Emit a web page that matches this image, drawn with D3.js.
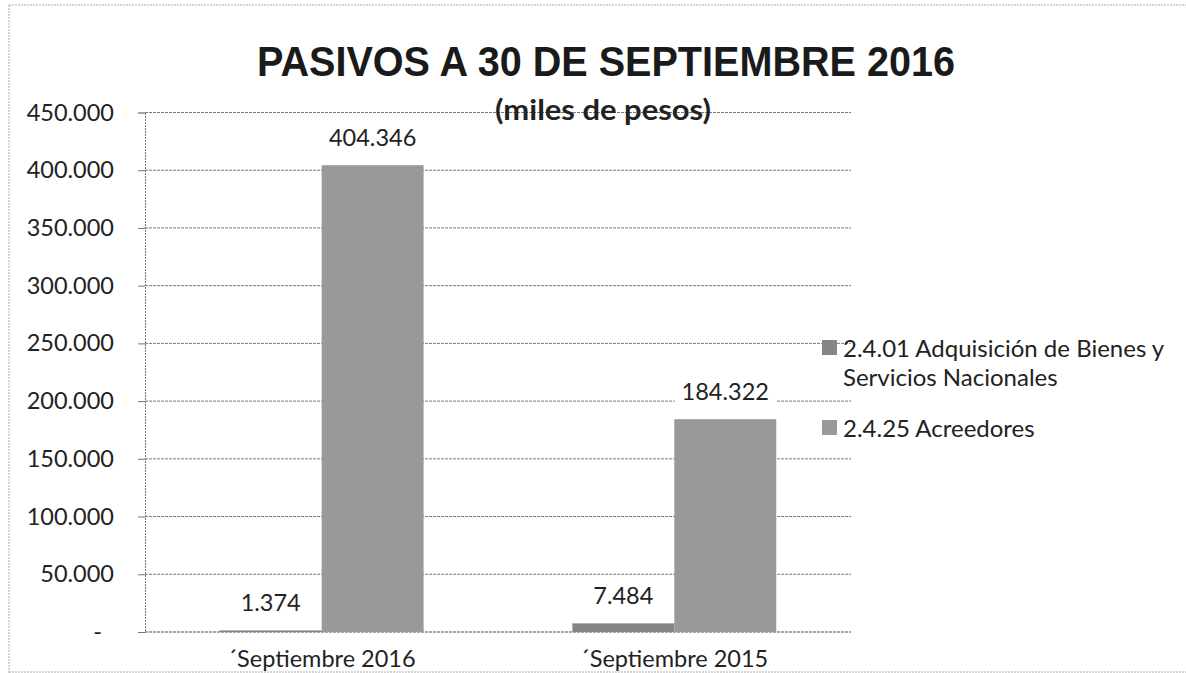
<!DOCTYPE html>
<html><head><meta charset="utf-8">
<script src="https://cdn.jsdelivr.net/npm/d3@7"></script>
<style>body{margin:0;background:#fff}svg{display:block}</style>
</head><body>
<svg id="c" width="1186" height="673"></svg>
<script>
const categories = ["´Septiembre 2016", "´Septiembre 2015"];
const seriesNames = ["2.4.01 Adquisición de Bienes y Servicios Nacionales", "2.4.25 Acreedores"];
const adquisicion = [1374, 7484];
const acreedores = [404346, 184322];
const yTicks = [0, 50000, 100000, 150000, 200000, 250000, 300000, 350000, 400000, 450000];
const colors = ["#858585", "#999999"];

const svg = d3.select("#c");
const font = "Lato, 'Open Sans', sans-serif";
const fmt = v => v === 0 ? "-" : d3.format(",")(v).replace(/,/g, ".");

// outer frame
svg.append("line").attr("x1",9).attr("x2",1186).attr("y1",5).attr("y2",5).attr("stroke","#aaa").attr("stroke-dasharray","2,1");
svg.append("line").attr("x1",9).attr("x2",9).attr("y1",5).attr("y2",673).attr("stroke","#aaa").attr("stroke-dasharray","2,1");
svg.append("line").attr("x1",9).attr("x2",1186).attr("y1",672).attr("y2",672).attr("stroke","#aaa").attr("stroke-dasharray","2,1");

const pL = 145, pR = 851, pT = 112.5, pB = 632;
const y = d3.scaleLinear().domain([0, 450000]).range([pB, pT]);
const x0 = d3.scaleBand().domain(categories).range([pL, pR]).paddingInner(0.422).paddingOuter(0.212);
const x1 = d3.scaleBand().domain([0,1]).range([0, x0.bandwidth()]);

// gridlines
svg.append("g").selectAll("line").data(yTicks.filter(d=>d>0)).join("line")
  .attr("x1", pL).attr("x2", pR).attr("y1", d=>y(d)).attr("y2", d=>y(d))
  .attr("stroke", "#7a7a7a").attr("stroke-width", 1).attr("stroke-dasharray","3,1");

// y axis
const yAxis = d3.axisLeft(y).tickValues(yTicks).tickSize(7).tickFormat(fmt);
const ga = svg.append("g").attr("transform", `translate(${pL},0)`).call(yAxis);
ga.select(".domain").attr("stroke","#777").attr("stroke-dasharray","2,1");
ga.selectAll(".tick line").attr("stroke","#777");
ga.selectAll(".tick text").attr("font-family", font).attr("font-size", 23.5).attr("fill","#222").attr("x", -31);
ga.selectAll(".tick text").filter(d=>d===0).attr("x", -43);

// baseline
svg.append("line").attr("x1", pL).attr("x2", pR).attr("y1", pB).attr("y2", pB).attr("stroke","#888").attr("stroke-width",1.5).attr("stroke-dasharray","3,1");

// bars
const series = [adquisicion, acreedores];
const g = svg.append("g");
series.forEach((vals, si) => {
  g.selectAll(null).data(vals).join("rect")
    .attr("x", (d,i) => x0(categories[i]) + x1(si))
    .attr("width", x1.bandwidth())
    .attr("y", d => y(d))
    .attr("height", d => pB - y(d))
    .attr("fill", colors[si]);
});

// data labels
series.forEach((vals, si) => {
  vals.forEach((v, i) => {
    const cx = x0(categories[i]) + x1(si) + x1.bandwidth()/2;
    const ty = y(v) - 19;
    const t = svg.append("text").attr("x", cx).attr("y", ty).attr("text-anchor","middle")
      .attr("font-family", font).attr("font-size", 23.5).attr("fill","#222").text(fmt(v));
    const bb = t.node().getBBox();
    svg.insert("rect", () => t.node()).attr("x", bb.x-7).attr("y", bb.y-3).attr("width", bb.width+14).attr("height", bb.height+6).attr("fill","#fff");
  });
});

// x labels
categories.forEach(c => {
  svg.append("text").attr("x", x0(c) + x0.bandwidth()/2).attr("y", 667).attr("text-anchor","middle")
    .attr("font-family", font).attr("font-size", 23.5).attr("fill","#222").text(c);
});

// title
svg.append("text").attr("x", 606).attr("y", 76).attr("text-anchor","middle")
  .attr("font-family", "'Liberation Sans Narrow', 'Arial Narrow', sans-serif").attr("font-weight","bold").attr("font-size", 43)
  .attr("textLength", 698).attr("lengthAdjust","spacingAndGlyphs")
  .attr("fill","#1a1a1a").text("PASIVOS A 30 DE SEPTIEMBRE 2016");
svg.append("text").attr("x", 603).attr("y", 120).attr("text-anchor","middle")
  .attr("font-family", font).attr("font-weight","bold").attr("font-size", 29)
  .attr("textLength", 216).attr("lengthAdjust","spacingAndGlyphs")
  .attr("fill","#222").text("(miles de pesos)");

// legend
const lg = svg.append("g").attr("font-family", font).attr("font-size", 24).attr("fill","#222");
lg.append("rect").attr("x", 822).attr("y", 340).attr("width", 15).attr("height", 15).attr("fill", colors[0]);
lg.append("text").attr("x", 843).attr("y", 357).text("2.4.01 Adquisición de Bienes y");
lg.append("text").attr("x", 843).attr("y", 386).text("Servicios Nacionales");
lg.append("rect").attr("x", 822).attr("y", 420).attr("width", 15).attr("height", 15).attr("fill", colors[1]);
lg.append("text").attr("x", 843).attr("y", 437).text("2.4.25 Acreedores");
</script>
</body></html>
